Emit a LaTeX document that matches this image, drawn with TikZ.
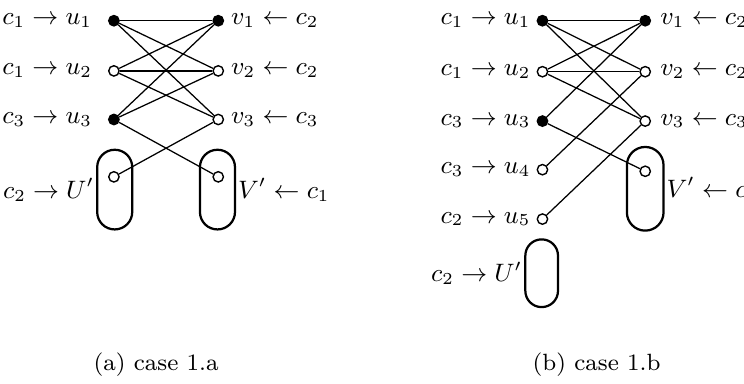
\documentclass[tikz,border=0pt]{standalone}
\usepackage{amsmath}
\usepackage{tikz}
\usetikzlibrary{positioning}

\begin{document}
\begin{tikzpicture}[
  every node/.style={font=\fontsize{9pt}{11pt}\selectfont},
  vtx/.style={draw, circle, fill=white, minimum size=1.3mm, inner sep=0pt, line width=0.5pt},
  full/.style={vtx, fill=black},
  pill/.style={draw, rounded corners=2.19mm, minimum width=4.4mm, minimum height=10mm, inner sep=0pt, line width=0.8pt},
  lab/.style={inner sep=0.5pt},
  capt/.style={font=\fontsize{8.4pt}{10pt}\selectfont},
  edge/.style={line width=0.45pt}
]
\useasboundingbox (0,0) rectangle (9.34,-4.81);

% (a) case 1.a
\node[pill, label={[lab]left:$c_2 \rightarrow U'$}] (Ua) at (1.44,-2.38) {};
\node[pill, label={[lab]right:$V' \leftarrow c_1$}] (Va) at (2.73,-2.38) {};
\node[full, label={[lab, label distance=5pt]left:$c_1 \rightarrow u_1$}] (ua1) at (1.43,-0.26) {};
\node[vtx, label={[lab, label distance=5pt]left:$c_1 \rightarrow u_2$}] (ua2) at (1.43,-0.89) {};
\node[full, label={[lab, label distance=5pt]left:$c_3 \rightarrow u_3$}] (ua3) at (1.43,-1.50) {};
\node[vtx] (upa) at (1.43,-2.22) {};
\node[full, label={[lab, label distance=1.8pt]right:$v_1 \leftarrow c_2$}] (va1) at (2.74,-0.26) {};
\node[vtx, label={[lab, label distance=1.8pt]right:$v_2 \leftarrow c_2$}] (va2) at (2.74,-0.89) {};
\node[vtx, label={[lab, label distance=1.8pt]right:$v_3 \leftarrow c_3$}] (va3) at (2.74,-1.50) {};
\node[vtx] (vpa) at (2.74,-2.22) {};

\draw[edge] (ua1) -- (va1);
\draw[edge] (ua1) -- (va2);
\draw[edge] (ua1) -- (va3);
\draw[edge] (ua2) -- (va1);
\draw[edge] (ua2) -- (va2);
\draw[edge] (ua2) -- (va3);
\draw[edge] (ua3) -- (va1);
\draw[edge] (ua3) -- (va2);
\draw[edge] (ua3) -- (vpa);
\draw[edge] (upa) -- (va3);

\node[capt] (capa) at (1.96,-4.58) {(a) case 1.a};

% (b) case 1.b
\node[pill, minimum width=4.1mm, minimum height=8.5mm, rounded corners=2.04mm,
      label={[lab]left:$c_2 \rightarrow U'$}] (Ub) at (6.80,-3.43) {};
\node[pill, minimum width=4.6mm, minimum height=10.5mm, rounded corners=2.29mm,
      label={[lab]right:$V' \leftarrow c_1$}] (Vb) at (8.10,-2.37) {};
\node[full, label={[lab, label distance=1.5pt]left:$c_1 \rightarrow u_1$}] (ub1) at (6.81,-0.26) {};
\node[vtx, label={[lab, label distance=1.5pt]left:$c_1 \rightarrow u_2$}] (ub2) at (6.81,-0.90) {};
\node[full, label={[lab, label distance=1.5pt]left:$c_3 \rightarrow u_3$}] (ub3) at (6.81,-1.52) {};
\node[vtx, label={[lab, label distance=1.5pt]left:$c_3 \rightarrow u_4$}] (ub4) at (6.81,-2.13) {};
\node[vtx, label={[lab, label distance=1.5pt]left:$c_2 \rightarrow u_5$}] (ub5) at (6.81,-2.75) {};
\node[full, label={[lab, label distance=2.6pt]right:$v_1 \leftarrow c_2$}] (vb1) at (8.10,-0.26) {};
\node[vtx, label={[lab, label distance=2.6pt]right:$v_2 \leftarrow c_2$}] (vb2) at (8.10,-0.90) {};
\node[vtx, label={[lab, label distance=2.6pt]right:$v_3 \leftarrow c_3$}] (vb3) at (8.10,-1.52) {};
\node[vtx] (vpb) at (8.10,-2.15) {};

\draw[edge] (ub1) -- (vb1);
\draw[edge] (ub1) -- (vb2);
\draw[edge] (ub1) -- (vb3);
\draw[edge] (ub2) -- (vb1);
\draw[edge] (ub2) -- (vb2);
\draw[edge] (ub2) -- (vb3);
\draw[edge] (ub3) -- (vb1);
\draw[edge] (ub3) -- (vpb);
\draw[edge] (ub4) -- (vb2);
\draw[edge] (ub5) -- (vb3);

\node[capt] (capb) at (7.49,-4.58) {(b) case 1.b};
\end{tikzpicture}
\end{document}
